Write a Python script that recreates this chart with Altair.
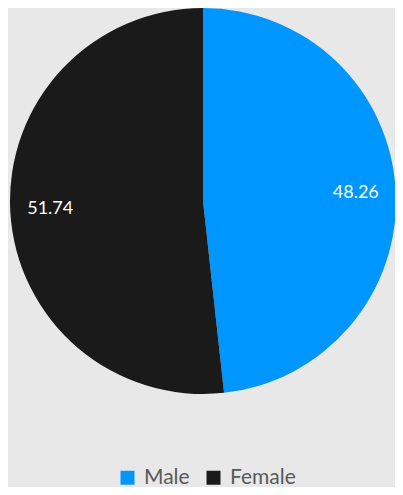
import altair as alt
import pandas as pd

categories = ["Male", "Female"]
values = [48.26, 51.74]
colors = ["#0096ff", "#1a1a1a"]

df = pd.DataFrame({"gender": categories, "value": values, "order": [0, 1]})

base = alt.Chart(df).encode(
    theta=alt.Theta("value:Q", stack=True),
    order=alt.Order("order:Q"),
)

pie = base.mark_arc(outerRadius=193).encode(
    x=alt.value(195),
    y=alt.value(193),
    color=alt.Color(
        "gender:N",
        scale=alt.Scale(domain=categories, range=colors),
        sort=categories,
        legend=alt.Legend(
            title=None,
            orient="none",
            direction="horizontal",
            legendX=109,
            legendY=459,
            symbolType="square",
            symbolSize=196,
            symbolStrokeWidth=0,
            labelFontSize=21,
            labelFont="Lato",
            labelColor="#595959",
            labelOffset=6,
            columnPadding=13,
        ),
    ),
)

labels = base.mark_text(
    radius=153, fontSize=18, font="Lato", color="white", baseline="middle"
).encode(
    x=alt.value(195),
    y=alt.value(193),
    text=alt.Text("value:Q", format=".2f"),
)

chart = (
    alt.layer(pie, labels)
    .properties(
        width=387,
        height=479,
        background="#e8e8e8",
        padding=0,
        autosize=alt.AutoSizeParams(type="none"),
    )
    .configure_view(stroke=None)
)

chart.save("out.html", embed_options={"renderer": "svg", "actions": False})
